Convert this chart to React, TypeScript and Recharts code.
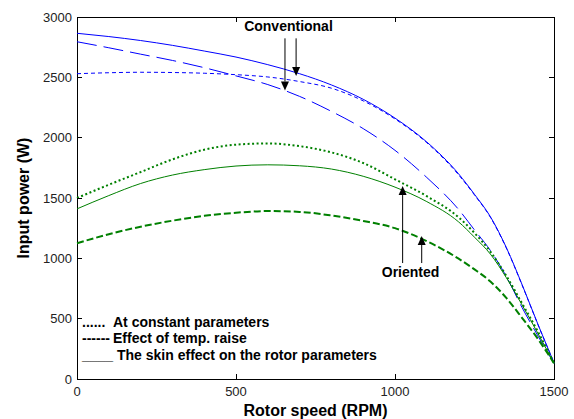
import React from 'react';
import { LineChart, Line, XAxis, YAxis, ReferenceArea, ReferenceLine, ReferenceDot, Label } from 'recharts';

// Rotor speed (RPM)
const speed = [0, 100, 200, 300, 400, 500, 600, 700, 800, 900, 1000, 1100, 1200, 1250, 1300, 1350, 1400, 1450, 1500];
// Conventional control (blue)
const convConst = [2530, 2538, 2542, 2540, 2534, 2522, 2503, 2465, 2410, 2305, 2155, 1958, 1692, 1525, 1340, 1086, 776, 448, 135];
const convTemp = [2795, 2745, 2692, 2640, 2580, 2512, 2440, 2342, 2218, 2075, 1895, 1670, 1405, 1235, 1065, 850, 590, 355, 130];
const convSkin = [2865, 2838, 2805, 2765, 2718, 2668, 2605, 2530, 2437, 2318, 2162, 1964, 1700, 1530, 1345, 1090, 780, 450, 135];
// Field oriented control (green)
const orientConst = [1500, 1610, 1715, 1820, 1900, 1942, 1952, 1930, 1878, 1790, 1655, 1515, 1340, 1210, 1055, 855, 625, 390, 130];
const orientTemp = [1125, 1200, 1262, 1312, 1352, 1378, 1392, 1385, 1355, 1310, 1250, 1142, 997, 908, 808, 672, 505, 330, 130];
const orientSkin = [1410, 1520, 1620, 1690, 1735, 1765, 1775, 1767, 1740, 1680, 1590, 1470, 1302, 1175, 1035, 840, 612, 375, 130];

const xTicks = [0, 500, 1000, 1500];
const yTicks = [0, 500, 1000, 1500, 2000, 2500, 3000];

// annotation arrows (data coordinates): x, start value, tip value
const convArrowX = [654, 689];
const convArrowFrom = [2823, 2823];
const convArrowTo = [2391, 2511];
const orientArrowX = [1024, 1084];
const orientArrowFrom = [961, 961];
const orientArrowTo = [1599, 1185];
const convLabel = { x: 665, y: 2886, text: 'Conventional' };
const orientLabel = { x: 1049, y: 843, text: 'Oriented' };

const legendItems = [
  { mark: '......', text: 'At constant parameters' },
  { mark: '------', text: 'Effect of temp. raise' },
  { mark: '____', text: 'The skin effect on the rotor parameters' },
];

const data = speed.map((s, i) => ({
  speed: s,
  convConst: convConst[i],
  convTemp: convTemp[i],
  convSkin: convSkin[i],
  orientConst: orientConst[i],
  orientTemp: orientTemp[i],
  orientSkin: orientSkin[i],
}));

const W = 574;
const H = 419;
const MARGIN = { top: 17, right: 20, left: 17, bottom: 10 };
const YW = 60;
const XH = 30;
const PL = MARGIN.left + YW;
const PR = W - MARGIN.right;
const PT = MARGIN.top;
const PB = H - MARGIN.bottom - XH;
const FONT = '"Liberation Sans", Arial, Helvetica, sans-serif';
const TICK = 5;

const XTick = (props: any) => {
  const { x, y, payload } = props;
  return (
    <g>
      <text x={x} y={y} dy="0.71em" textAnchor="middle" fontFamily={FONT} fontSize={13} fill="#222">
        {payload.value}
      </text>
      <line x1={x} x2={x} y1={PB} y2={PB - TICK} stroke="#000" shapeRendering="crispEdges" />
      <line x1={x} x2={x} y1={PT} y2={PT + TICK} stroke="#000" shapeRendering="crispEdges" />
    </g>
  );
};

const YTick = (props: any) => {
  const { x, y, payload } = props;
  return (
    <g>
      <text x={x} y={y} dy="0.355em" textAnchor="end" fontFamily={FONT} fontSize={13} fill="#222">
        {payload.value}
      </text>
      <line x1={PL} x2={PL + TICK} y1={y} y2={y} stroke="#000" shapeRendering="crispEdges" />
      <line x1={PR - TICK} x2={PR} y1={y} y2={y} stroke="#000" shapeRendering="crispEdges" />
    </g>
  );
};

const Arrow = (props: any) => {
  const { x1, y1, x2, y2 } = props;
  const dir = y2 > y1 ? 1 : -1;
  const hh = 9;
  const hw = 4;
  return (
    <g>
      <line x1={x1} y1={y1} x2={x2} y2={y2 - dir * hh} stroke="#000" strokeWidth={1} />
      <polygon points={`${x2},${y2} ${x2 - hw},${y2 - dir * hh} ${x2 + hw},${y2 - dir * hh}`} fill="#000" />
    </g>
  );
};

const textShape = (text: string) => (props: any) => (
  <text x={props.cx} y={props.cy} textAnchor="middle" fontFamily={FONT} fontSize={14} fontWeight="bold" fill="#000">
    {text}
  </text>
);

export default function App() {
  return (
    <div style={{ position: 'absolute', left: 0, top: 0, width: W, height: H, background: '#fff' }}>
      <LineChart width={W} height={H} data={data} margin={MARGIN}>
        <XAxis
          dataKey="speed"
          type="number"
          domain={[0, 1500]}
          ticks={xTicks}
          height={XH}
          axisLine={false}
          tickLine={false}
          tickSize={0}
          tickMargin={8}
          tick={<XTick />}
          interval={0}
        >
          <Label
            content={(p: any) => (
              <text
                x={PL + (PR - PL) / 2}
                y={415.5}
                textAnchor="middle"
                fontFamily={FONT}
                fontSize={16}
                fontWeight="bold"
                fill="#000"
              >
                Rotor speed (RPM)
              </text>
            )}
          />
        </XAxis>
        <YAxis
          type="number"
          domain={[0, 3000]}
          ticks={yTicks}
          width={YW}
          axisLine={false}
          tickLine={false}
          tickSize={0}
          tickMargin={5}
          tick={<YTick />}
          interval={0}
        >
          <Label
            content={(p: any) => (
              <text
                x={29}
                y={198}
                transform={`rotate(-90, 29, 198)`}
                textAnchor="middle"
                fontFamily={FONT}
                fontSize={16}
                fontWeight="bold"
                fill="#000"
              >
                Input power (W)
              </text>
            )}
          />
        </YAxis>
        <ReferenceArea x1={0} x2={1500} y1={0} y2={3000} fill="none" stroke="#000" strokeWidth={1} shapeRendering="crispEdges" />

        <Line dataKey="convSkin" type="monotone" stroke="#0000ff" strokeWidth={1} dot={false} isAnimationActive={false} />
        <Line dataKey="convTemp" type="monotone" stroke="#0000ff" strokeWidth={1} strokeDasharray="20 7" dot={false} isAnimationActive={false} />
        <Line dataKey="convConst" type="monotone" stroke="#0000ff" strokeWidth={1} strokeDasharray="4 3" dot={false} isAnimationActive={false} />
        <Line dataKey="orientSkin" type="monotone" stroke="#008000" strokeWidth={1} dot={false} isAnimationActive={false} />
        <Line dataKey="orientConst" type="monotone" stroke="#008000" strokeWidth={2} strokeDasharray="2 2.5" dot={false} isAnimationActive={false} />
        <Line dataKey="orientTemp" type="monotone" stroke="#008000" strokeWidth={2} strokeDasharray="7 3" dot={false} isAnimationActive={false} />

        {convArrowX.map((x, i) => (
          <ReferenceLine
            key={'c' + i}
            segment={[{ x, y: convArrowFrom[i] }, { x, y: convArrowTo[i] }]}
            shape={(p: any) => <Arrow {...p} />}
          />
        ))}
        {orientArrowX.map((x, i) => (
          <ReferenceLine
            key={'o' + i}
            segment={[{ x, y: orientArrowFrom[i] }, { x, y: orientArrowTo[i] }]}
            shape={(p: any) => <Arrow {...p} />}
          />
        ))}
        <ReferenceDot x={convLabel.x} y={convLabel.y} r={0} shape={textShape(convLabel.text)} />
        <ReferenceDot x={orientLabel.x} y={orientLabel.y} r={0} shape={textShape(orientLabel.text)} />
      </LineChart>
      <svg width={W} height={H} style={{ position: 'absolute', left: 0, top: 0, pointerEvents: 'none' }}>
        {legendItems.map((it, i) => (
          <g key={i} fontFamily={FONT} fontSize={14} fontWeight="bold" fill="#000">
            <text x={82} y={326.5 + i * 16.7}>{it.mark}</text>
            <text x={i === 2 ? 117 : 113} y={326.5 + i * 16.7}>{it.text}</text>
          </g>
        ))}
      </svg>
    </div>
  );
}
